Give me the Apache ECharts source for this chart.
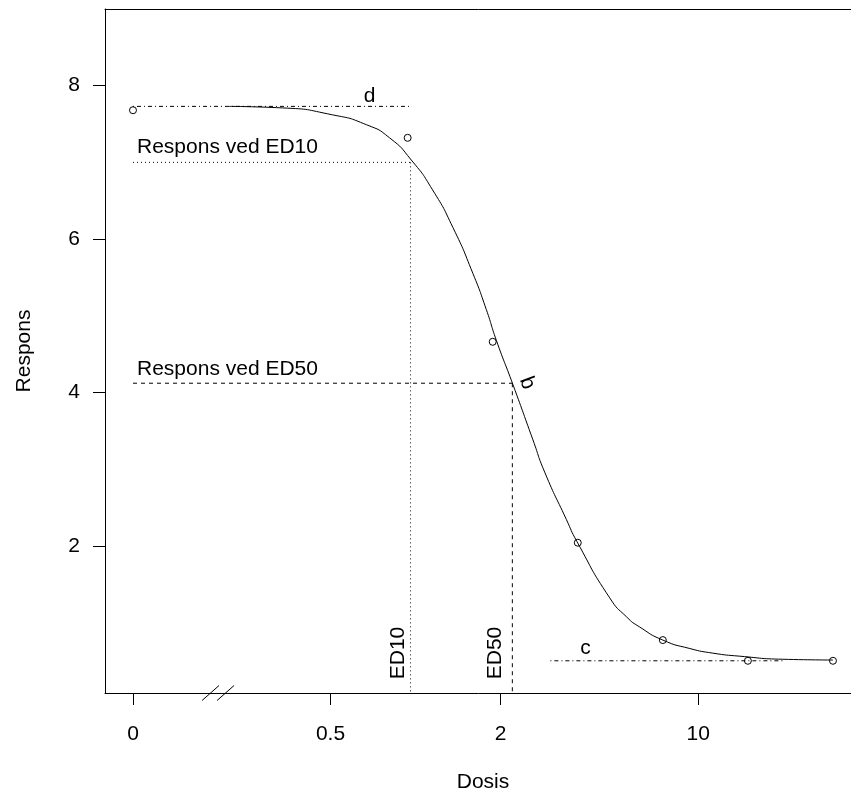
<!DOCTYPE html>
<html>
<head>
<meta charset="utf-8">
<title>Dosis-respons</title>
<script src="https://cdn.jsdelivr.net/npm/echarts@6/dist/echarts.min.js"></script>
<style>
  html, body { margin: 0; padding: 0; background: #fff; overflow: hidden; }
  #chart { width: 851px; height: 792px; }
</style>
</head>
<body>
<div id="chart"></div>
<script>
// Observed responses; dose 0 is shown at zeroPos on the broken log axis
const zeroPos = 0.1;
const doses = [0, 0.9375, 1.875, 3.75, 7.5, 15, 30];
const responses = [7.68, 7.32, 4.66, 2.04, 0.77, 0.50, 0.50];

// Fitted dose-response curve
const curveDoses = [0.219, 0.338, 0.508, 0.671, 0.809, 0.966, 1.149, 1.356, 1.596, 1.78,
  1.931, 2.212, 2.603, 2.864, 3.42, 3.718, 4.866, 5.59, 6.215, 7.5,
  9.345, 11.27, 14.05, 19.95, 30];
const curveResp = [7.73, 7.71, 7.62, 7.49, 7.32, 7.03, 6.64, 6.15, 5.55, 5.08,
  4.68, 4.10, 3.38, 2.96, 2.34, 2.06, 1.32, 1.07, 0.94, 0.77,
  0.66, 0.60, 0.56, 0.52, 0.51];

// Model parameters and effective doses
const dLevel = 7.73;   // upper limit d
const cLevel = 0.50;   // lower limit c
const ed10 = 0.96;
const ed50 = 2.20;
const resp10 = 7.00;   // response at ED10
const resp50 = 4.12;   // response at ED50
const cFrom = 3;
const cTo = 20;
const breakAt = 0.2;   // axis break between 0 and the positive doses

// Axis ticks
const xTickValues = [0.1, 0.5, 2, 10];
const xTickLabels = ['0', '0.5', '2', '10'];
const yTickValues = [2, 4, 6, 8];

const xMin = 0.0796, xMax = 37.7;
const yMin = 0.08, yMax = 9.0;

const FONT = '"Liberation Sans", Arial, sans-serif';
const INK = '#000';
const DOTTED = [1, 3];
const DASHED = [4, 4];
const DOTDASH = [1, 3, 4, 3];

function refLine(name, pts, dash) {
  return {
    name: name,
    type: 'line',
    data: pts,
    symbol: 'none',
    silent: true,
    lineStyle: { color: INK, width: 1, type: dash },
    z: 3
  };
}

// Text placed next to a point given in data units; offsets are in the
// label's own (possibly rotated) frame.
function note(text, at, offset, extra) {
  return {
    value: at,
    label: Object.assign({
      show: true,
      formatter: text,
      position: 'inside',
      offset: offset,
      align: 'center',
      verticalAlign: 'middle',
      fontFamily: FONT,
      fontSize: 21,
      color: INK,
      opacity: 1,
      textBorderWidth: 0,
      textShadowBlur: 0
    }, extra || {})
  };
}

const xPos = doses.map(d => (d === 0 ? zeroPos : d));

const chart = echarts.init(document.getElementById('chart'), null, { renderer: 'canvas' });

const logAxisBase = {
  type: 'log',
  logBase: 10,
  min: xMin,
  max: xMax,
  minorTick: { show: false },
  splitLine: { show: false }
};

const option = {
  backgroundColor: '#fff',
  animation: false,
  // the plot frame runs a little past the right edge of the window
  grid: {
    left: 105, top: 9, right: -10, bottom: 99,
    outerBoundsMode: 'none',
    show: false
  },
  xAxis: [
    Object.assign({}, logAxisBase, {
      position: 'bottom',
      name: 'Dosis',
      nameLocation: 'middle',
      nameGap: 79,
      nameTextStyle: { fontFamily: FONT, fontSize: 21, color: INK },
      axisLine: { show: true, onZero: false, lineStyle: { color: INK, width: 1 } },
      axisTick: { show: true, length: 12, inside: false, customValues: xTickValues, lineStyle: { color: INK, width: 1 } },
      axisLabel: {
        show: true,
        customValues: xTickValues,
        margin: 31,
        fontFamily: FONT,
        fontSize: 21,
        color: INK,
        formatter: function (v) {
          for (let i = 0; i < xTickValues.length; i++) {
            if (Math.abs(Math.log10(v) - Math.log10(xTickValues[i])) < 1e-6) return xTickLabels[i];
          }
          return '';
        }
      }
    }),
    // top edge of the plot frame
    Object.assign({}, logAxisBase, {
      position: 'top',
      axisLine: { show: true, onZero: false, lineStyle: { color: INK, width: 1 } },
      axisTick: { show: false },
      axisLabel: { show: false }
    })
  ],
  yAxis: {
    type: 'value',
    min: yMin,
    max: yMax,
    name: 'Respons',
    nameLocation: 'middle',
    nameGap: 70,
    nameRotate: 90,
    nameTextStyle: { fontFamily: FONT, fontSize: 21, color: INK },
    axisLine: { show: true, onZero: false, lineStyle: { color: INK, width: 1 } },
    axisTick: { show: true, length: 12, inside: false, customValues: yTickValues, lineStyle: { color: INK, width: 1 } },
    axisLabel: {
      show: true,
      customValues: yTickValues,
      margin: 25,
      fontFamily: FONT,
      fontSize: 21,
      color: INK,
      formatter: v => String(v)
    },
    splitLine: { show: false }
  },
  series: [
    refLine('d', [[zeroPos, dLevel], [ed10, dLevel]], DOTDASH),
    refLine('ED10 respons', [[zeroPos, resp10], [ed10, resp10]], DOTTED),
    refLine('ED10', [[ed10, resp10], [ed10, yMin]], DOTTED),
    refLine('ED50 respons', [[zeroPos, resp50], [ed50, resp50]], DASHED),
    refLine('ED50', [[ed50, resp50], [ed50, yMin]], DASHED),
    refLine('c', [[cFrom, cLevel], [cTo, cLevel]], DOTDASH),
    {
      name: 'Kurve',
      type: 'line',
      data: curveDoses.map((d, i) => [d, curveResp[i]]),
      symbol: 'none',
      smooth: 0.6,
      silent: true,
      lineStyle: { color: INK, width: 1 },
      z: 4
    },
    {
      name: 'Data',
      type: 'scatter',
      data: xPos.map((d, i) => [d, responses[i]]),
      symbol: 'circle',
      symbolSize: 7,
      silent: true,
      itemStyle: { color: 'rgba(0,0,0,0)', borderColor: INK, borderWidth: 1, opacity: 1 },
      z: 5
    },
    {
      name: 'Brud',
      type: 'custom',
      silent: true,
      data: [[breakAt, yMin]],
      renderItem: function (params, api) {
        const p = api.coord([api.value(0), api.value(1)]);
        const st = { stroke: INK, lineWidth: 1 };
        return {
          type: 'group',
          children: [
            { type: 'line', shape: { x1: p[0] - 16, y1: p[1] + 7.5, x2: p[0] + 1, y2: p[1] - 7.5 }, style: st },
            { type: 'line', shape: { x1: p[0] - 1, y1: p[1] + 7.5, x2: p[0] + 16, y2: p[1] - 7.5 }, style: st }
          ]
        };
      },
      z: 6
    },
    {
      name: 'Tekst',
      type: 'scatter',
      symbolSize: 0,
      silent: true,
      itemStyle: { color: 'rgba(0,0,0,0)', opacity: 1 },
      z: 7,
      data: [
        note('d', [ed10, dLevel], [-41, -10]),
        note('Respons ved ED10', [zeroPos, resp10], [4, -15], { align: 'left' }),
        note('Respons ved ED50', [zeroPos, resp50], [4, -14], { align: 'left' }),
        note('ED10', [ed10, yMin], [40, -12], { rotate: 90 }),
        note('ED50', [ed50, yMin], [40, -17], { rotate: 90 }),
        note('c', [cFrom, cLevel], [35, -13]),
        note('b', [ed50, resp50], [5, -14], { rotate: -70 })
      ]
    }
  ]
};

chart.setOption(option);
</script>
</body>
</html>
